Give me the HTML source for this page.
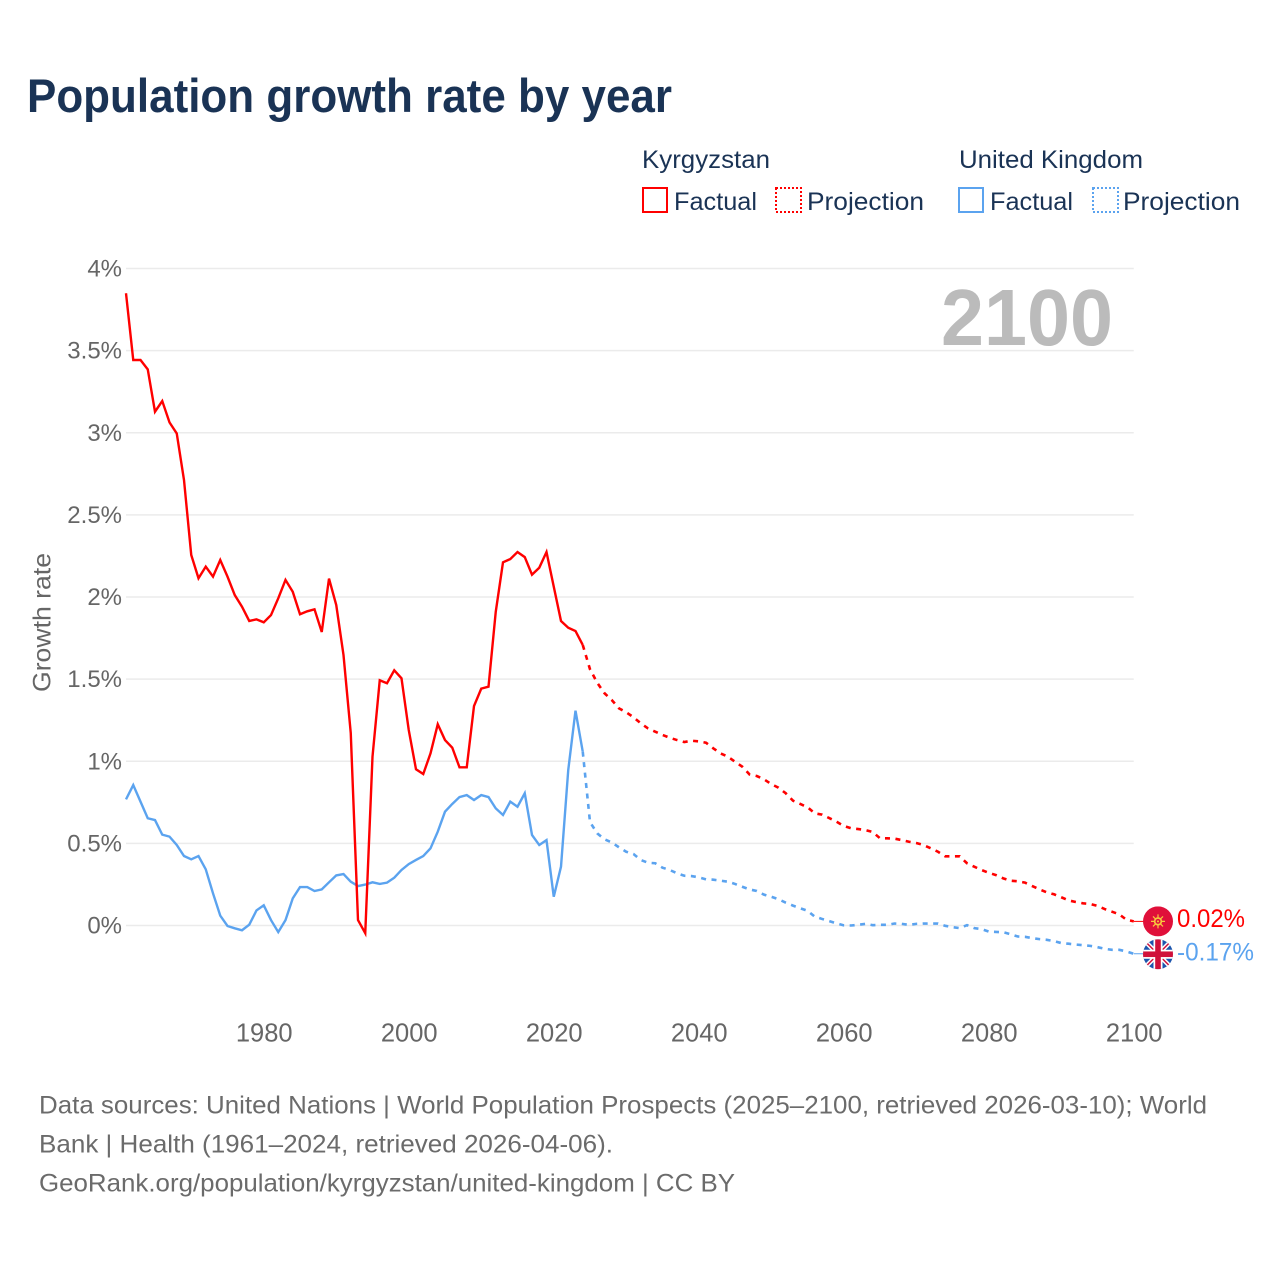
<!DOCTYPE html>
<html lang="en">
<head>
<meta charset="utf-8">
<title>Population growth rate by year</title>
<style>
html,body{margin:0;padding:0;background:#fff;}
svg{display:block;font-family:"Liberation Sans",sans-serif;}
</style>
</head>
<body>
<svg id="chart" xmlns="http://www.w3.org/2000/svg" width="1280" height="1280" viewBox="0 0 1280 1280">
  <defs>
    <clipPath id="flag-clip"><circle cx="0" cy="0" r="15"/></clipPath>
  </defs>
  <rect x="0" y="0" width="1280" height="1280" fill="#fff"/>
  <text x="27" y="112" font-size="47" font-weight="700" fill="#1a3355" textLength="645" lengthAdjust="spacingAndGlyphs">Population growth rate by year</text>

  <g font-size="25" fill="#1a3355">
    <text x="642" y="168" textLength="128" lengthAdjust="spacingAndGlyphs">Kyrgyzstan</text>
    <text x="959" y="168" textLength="184" lengthAdjust="spacingAndGlyphs">United Kingdom</text>
    <rect x="643" y="188" width="24" height="24" fill="none" stroke="#ff0000" stroke-width="2"/>
    <text x="674" y="210" textLength="83" lengthAdjust="spacingAndGlyphs">Factual</text>
    <rect x="776" y="188" width="25" height="24" fill="none" stroke="#ff0000" stroke-width="2" stroke-dasharray="2 2"/>
    <text x="807" y="210" textLength="117" lengthAdjust="spacingAndGlyphs">Projection</text>
    <rect x="959" y="188" width="24" height="24" fill="none" stroke="#5ba3ef" stroke-width="2"/>
    <text x="990" y="210" textLength="83" lengthAdjust="spacingAndGlyphs">Factual</text>
    <rect x="1093" y="188" width="25" height="24" fill="none" stroke="#5ba3ef" stroke-width="2" stroke-dasharray="2 2"/>
    <text x="1123" y="210" textLength="117" lengthAdjust="spacingAndGlyphs">Projection</text>
  </g>

  <g id="grid"></g>
  <g id="y-ticks"></g>
  <g id="x-ticks"></g>

  <text transform="translate(50.500,692) rotate(-90)" font-size="25" fill="#666" textLength="139" lengthAdjust="spacingAndGlyphs">Growth rate</text>
  <text x="941" y="345" font-size="80" font-weight="700" fill="#bbbbbb" textLength="172" lengthAdjust="spacingAndGlyphs">2100</text>

  <g id="series"></g>

  <g id="flag-kyrgyzstan">
    <g clip-path="url(#flag-clip)">
      <rect x="-15" y="-15" width="30" height="30" fill="#e0103a"/>
      <g stroke="#f7c83d" stroke-width="1.200">
        <line x1="-7" y1="0" x2="7" y2="0"/>
        <line x1="0" y1="-7" x2="0" y2="7"/>
        <line x1="-5" y1="-5" x2="5" y2="5"/>
        <line x1="-5" y1="5" x2="5" y2="-5"/>
      </g>
      <circle r="4.200" fill="#f7c83d"/>
      <circle r="2.500" fill="#e0103a"/>
      <circle r="1" fill="#f7c83d"/>
    </g>
  </g>
  <g id="flag-uk">
    <g clip-path="url(#flag-clip)">
      <rect x="-15" y="-15" width="30" height="30" fill="#1c55ad"/>
      <line x1="-15" y1="-15" x2="15" y2="15" stroke="#fff" stroke-width="4.500"/>
      <line x1="-15" y1="15" x2="15" y2="-15" stroke="#fff" stroke-width="4.500"/>
      <line x1="-15" y1="-15" x2="15" y2="15" stroke="#d0103a" stroke-width="1.500"/>
      <line x1="-15" y1="15" x2="15" y2="-15" stroke="#d0103a" stroke-width="1.500"/>
      <rect x="-4.500" y="-15" width="9" height="30" fill="#fff"/>
      <rect x="-15" y="-4.500" width="30" height="9" fill="#fff"/>
      <rect x="-2.800" y="-15" width="5.600" height="30" fill="#d0103a"/>
      <rect x="-15" y="-2.800" width="30" height="5.600" fill="#d0103a"/>
    </g>
  </g>
  <text id="end-label-kyrgyzstan" font-size="25" fill="#ff0000" textLength="68" lengthAdjust="spacingAndGlyphs"></text>
  <text id="end-label-uk" font-size="25" fill="#5ba3ef" textLength="77" lengthAdjust="spacingAndGlyphs"></text>

  <g font-size="25" fill="#6b6b6b">
    <text x="39" y="1113.500" textLength="1168" lengthAdjust="spacingAndGlyphs">Data sources: United Nations | World Population Prospects (2025–2100, retrieved 2026-03-10); World</text>
    <text x="39" y="1152.500" textLength="574" lengthAdjust="spacingAndGlyphs">Bank | Health (1961–2024, retrieved 2026-04-06).</text>
    <text x="39" y="1191.500" textLength="696" lengthAdjust="spacingAndGlyphs">GeoRank.org/population/kyrgyzstan/united-kingdom | CC BY</text>
  </g>
</svg>
<script>
const factualStartYear = 1961;
const projectionStartYear = 2024;
const xTickYears = [1980, 2000, 2020, 2040, 2060, 2080, 2100];
const yTickValues = [0, 0.5, 1, 1.5, 2, 2.5, 3, 3.5, 4];
const yTickLabels = ["0%", "0.5%", "1%", "1.5%", "2%", "2.5%", "3%", "3.5%", "4%"];
const kyrgyzFactual = [
  3.849, 3.443, 3.443, 3.386, 3.128, 3.193, 3.063, 2.996, 2.712, 2.256,
  2.114, 2.185, 2.124, 2.225, 2.124, 2.012, 1.941, 1.854, 1.864, 1.846,
  1.890, 1.992, 2.104, 2.032, 1.895, 1.913, 1.925, 1.787, 2.112, 1.951,
  1.647, 1.172, 0.033, -0.047, 1.028, 1.493, 1.475, 1.554, 1.505, 1.190,
  0.951, 0.922, 1.048, 1.225, 1.129, 1.083, 0.963, 0.963, 1.336, 1.442,
  1.454, 1.910, 2.211, 2.231, 2.274, 2.243, 2.136, 2.178, 2.274, 2.063,
  1.854, 1.813, 1.793, 1.708
];
const kyrgyzProjection = [
  1.708, 1.560, 1.478, 1.414, 1.373, 1.322, 1.298, 1.268, 1.231, 1.200,
  1.180, 1.160, 1.143, 1.129, 1.117, 1.125, 1.121, 1.113, 1.079, 1.048,
  1.028, 0.997, 0.967, 0.920, 0.910, 0.890, 0.861, 0.839, 0.805, 0.760,
  0.740, 0.720, 0.683, 0.675, 0.654, 0.632, 0.606, 0.592, 0.587, 0.581,
  0.569, 0.531, 0.531, 0.529, 0.520, 0.510, 0.502, 0.490, 0.470, 0.449,
  0.421, 0.421, 0.421, 0.379, 0.358, 0.338, 0.321, 0.307, 0.287, 0.273,
  0.269, 0.261, 0.240, 0.220, 0.202, 0.190, 0.172, 0.153, 0.143, 0.135,
  0.131, 0.119, 0.100, 0.084, 0.068, 0.035, 0.025
];
const ukFactual = [
  0.768, 0.855, 0.754, 0.653, 0.642, 0.553, 0.541, 0.490, 0.423, 0.403,
  0.423, 0.342, 0.196, 0.060, -0.003, -0.017, -0.029, 0.005, 0.092, 0.123,
  0.033, -0.040, 0.033, 0.165, 0.234, 0.234, 0.210, 0.220, 0.263, 0.305,
  0.313, 0.267, 0.240, 0.249, 0.263, 0.253, 0.261, 0.291, 0.338, 0.374,
  0.399, 0.423, 0.470, 0.571, 0.693, 0.740, 0.782, 0.794, 0.764, 0.794,
  0.782, 0.713, 0.673, 0.754, 0.723, 0.805, 0.551, 0.490, 0.520, 0.175,
  0.358, 0.947, 1.308, 1.058
];
const ukProjection = [
  1.058, 0.630, 0.561, 0.525, 0.506, 0.476, 0.449, 0.435, 0.399, 0.382,
  0.379, 0.352, 0.338, 0.318, 0.303, 0.301, 0.293, 0.281, 0.279, 0.273,
  0.267, 0.253, 0.236, 0.220, 0.210, 0.188, 0.175, 0.160, 0.139, 0.121,
  0.105, 0.090, 0.054, 0.040, 0.027, 0.013, 0.001, 0.000, 0.004, 0.010,
  0.002, 0.004, 0.004, 0.012, 0.010, 0.004, 0.010, 0.012, 0.012, 0.012,
  -0.002, -0.010, -0.016, 0.002, -0.016, -0.022, -0.037, -0.039, -0.041, -0.053,
  -0.067, -0.069, -0.077, -0.083, -0.087, -0.095, -0.107, -0.111, -0.116, -0.120,
  -0.124, -0.132, -0.142, -0.148, -0.148, -0.158, -0.172
];
const endLabels = ["0.02%", "-0.17%"];

const SVG_NS = "http://www.w3.org/2000/svg";
const RED = "#ff0000";
const BLUE = "#5ba3ef";
function xScale(year) { return 126 + (year - 1961) * 7.25; }
function yScale(value) { return 925.5 - value * 164.25; }
function pathFor(values, startYear) {
  return values.map(function (v, i) {
    return (i ? "L" : "M") + xScale(startYear + i).toFixed(2) + " " + yScale(v).toFixed(2);
  }).join(" ");
}

const gridGroup = document.getElementById("grid");
const yTickGroup = document.getElementById("y-ticks");
const xTickGroup = document.getElementById("x-ticks");
const seriesGroup = document.getElementById("series");

yTickValues.forEach(function (v, i) {
  const line = document.createElementNS(SVG_NS, "line");
  
  
  line.setAttribute("x1", xScale(1961));
  line.setAttribute("x2", xScale(2100));
  line.setAttribute("y1", yScale(v));
  line.setAttribute("y2", yScale(v));
  line.setAttribute("stroke", "#ebebeb");
  line.setAttribute("stroke-width", "1.5");
  gridGroup.appendChild(line);

  const label = document.createElementNS(SVG_NS, "text");
  
  
  label.setAttribute("x", 122);
  label.setAttribute("y", yScale(v) + 8);
  label.setAttribute("text-anchor", "end");
  label.setAttribute("font-size", "24");
  label.setAttribute("fill", "#666");
  label.textContent = yTickLabels[i];
  yTickGroup.appendChild(label);
});

xTickYears.forEach(function (year) {
  const label = document.createElementNS(SVG_NS, "text");
  
  
  label.setAttribute("x", xScale(year) + 0.5);
  label.setAttribute("y", 1041.5);
  label.setAttribute("text-anchor", "middle");
  label.setAttribute("font-size", "25.5");
  label.setAttribute("fill", "#666");
  label.textContent = String(year);
  xTickGroup.appendChild(label);
});

function addSeries(values, startYear, color, dashed, name) {
  const path = document.createElementNS(SVG_NS, "path");
  
  
  path.setAttribute("d", pathFor(values, startYear));
  path.setAttribute("fill", "none");
  path.setAttribute("stroke", color);
  path.setAttribute("stroke-width", dashed ? "2.6" : "2.4");
  path.setAttribute("stroke-linejoin", "miter");
  if (dashed) path.setAttribute("stroke-dasharray", "5 5.5");
  seriesGroup.appendChild(path);
}
addSeries(ukFactual, factualStartYear, BLUE, false, "line-uk-factual");
addSeries(ukProjection, projectionStartYear, BLUE, true, "line-uk-projection");
addSeries(kyrgyzFactual, factualStartYear, RED, false, "line-kyrgyzstan-factual");
addSeries(kyrgyzProjection, projectionStartYear, RED, true, "line-kyrgyzstan-projection");

function placeEnd(values, color, flagId, labelId, labelText, leaderName, flagYOffset, labelYOffset) {
  const endY = yScale(values[values.length - 1]);
  const leader = document.createElementNS(SVG_NS, "line");
  
  
  leader.setAttribute("x1", xScale(2100));
  leader.setAttribute("x2", 1144);
  leader.setAttribute("y1", endY);
  leader.setAttribute("y2", endY);
  leader.setAttribute("stroke", color);
  leader.setAttribute("stroke-width", "1");
  seriesGroup.appendChild(leader);
  document.getElementById(flagId).setAttribute("transform", "translate(1158," + (endY + flagYOffset) + ")");
  const label = document.getElementById(labelId);
  label.setAttribute("x", 1177);
  label.setAttribute("y", endY + labelYOffset);
  label.textContent = labelText;
}
placeEnd(kyrgyzProjection, RED, "flag-kyrgyzstan", "end-label-kyrgyzstan", endLabels[0], "leader-kyrgyzstan", 0, 5.5);
placeEnd(ukProjection, BLUE, "flag-uk", "end-label-uk", endLabels[1], "leader-united-kingdom", 0.5, 6.5);
</script>
</body>
</html>
